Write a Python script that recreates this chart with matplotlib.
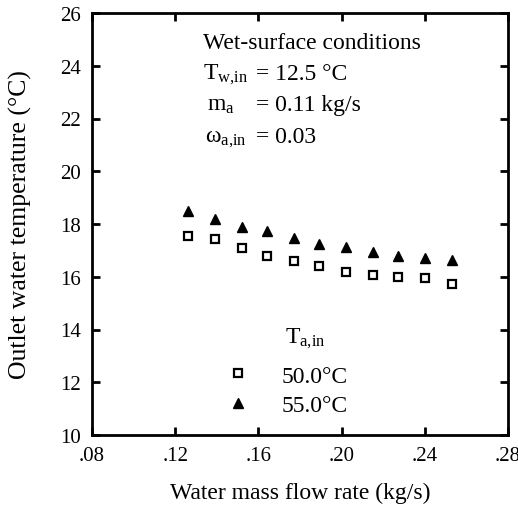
import matplotlib
matplotlib.use('Agg')
import matplotlib.pyplot as plt

plt.rcParams['font.family'] = 'Liberation Serif'
plt.rcParams['mathtext.fontset'] = 'custom'
plt.rcParams['mathtext.rm'] = 'Liberation Serif'
plt.rcParams['mathtext.it'] = 'Liberation Serif:italic'

# water mass flow rate (kg/s)
flow = [0.126, 0.139, 0.152, 0.164, 0.177, 0.189, 0.202, 0.215, 0.227, 0.240, 0.253]
# outlet water temperature (C) for two inlet air temperatures
t_out_50 = [17.53, 17.43, 17.09, 16.78, 16.60, 16.41, 16.17, 16.07, 15.98, 15.97, 15.74]
t_out_55 = [18.48, 18.20, 17.89, 17.75, 17.48, 17.24, 17.13, 16.95, 16.78, 16.72, 16.64]
series_labels = ['50.0°C', '55.0°C']

xticks = [0.08, 0.12, 0.16, 0.20, 0.24, 0.28]
xtick_labels = ['.08', '.12', '.16', '.20', '.24', '.28']
yticks = [10, 12, 14, 16, 18, 20, 22, 24, 26]

fig = plt.figure(figsize=(5.18, 5.10), dpi=100)
ax = fig.add_axes([92 / 518, 1 - 436 / 510, 416 / 518, 422 / 510])

ax.plot(flow, t_out_50, linestyle='none', marker='s', markersize=5.5,
        markerfacecolor='white', markeredgecolor='black', markeredgewidth=1.6,
        label=series_labels[0])
ax.plot(flow, t_out_55, linestyle='none', marker='^', markersize=7.5,
        color='black', label=series_labels[1])

ax.set_xlim(0.08, 0.28)
ax.set_ylim(10, 26)
ax.set_xticks(xticks)
ax.set_xticklabels(xtick_labels)
ax.set_yticks(yticks)
ax.tick_params(direction='in', top=True, right=True, length=6, width=2,
               labelsize=15, pad=8)
for s in ax.spines.values():
    s.set_linewidth(2)

ax.set_xlabel('Water mass flow rate (kg/s)', fontsize=17, labelpad=12)
ax.set_ylabel('Outlet water temperature (°C)', fontsize=18.5, va='center')
ax.yaxis.set_label_coords(-72 / 416, 0.5)

# operating conditions
fs = 17
ax.text(0.267, 0.916, 'Wet-surface conditions', transform=ax.transAxes,
        fontsize=fs, va='baseline')
ax.text(0.267, 0.844, r'T$_{\mathrm{w{,}in}}$', transform=ax.transAxes,
        fontsize=fs, va='baseline')
ax.text(0.395, 0.844, '= 12.5 °C', transform=ax.transAxes,
        fontsize=fs, va='baseline')
ax.text(0.277, 0.770, r'm$_{\mathrm{a}}$', transform=ax.transAxes,
        fontsize=fs, va='baseline')
ax.text(0.395, 0.770, '= 0.11 kg/s', transform=ax.transAxes,
        fontsize=fs, va='baseline')
ax.text(0.272, 0.695, r'ω$_{\mathrm{a{,}in}}$', transform=ax.transAxes,
        fontsize=fs, va='baseline')
ax.text(0.395, 0.695, '= 0.03', transform=ax.transAxes,
        fontsize=fs, va='baseline')

# legend with its heading placed separately
ax.text(0.464, 0.22, r'T$_{\mathrm{a{,}in}}$', transform=ax.transAxes,
        fontsize=fs, va='baseline')
leg = ax.legend(loc='upper left', bbox_to_anchor=(0.3, 0.188), frameon=False,
                fontsize=17, handlelength=1.0, handletextpad=1.35,
                labelspacing=0.35, borderaxespad=0)

fig.savefig('out.png', dpi=100)
